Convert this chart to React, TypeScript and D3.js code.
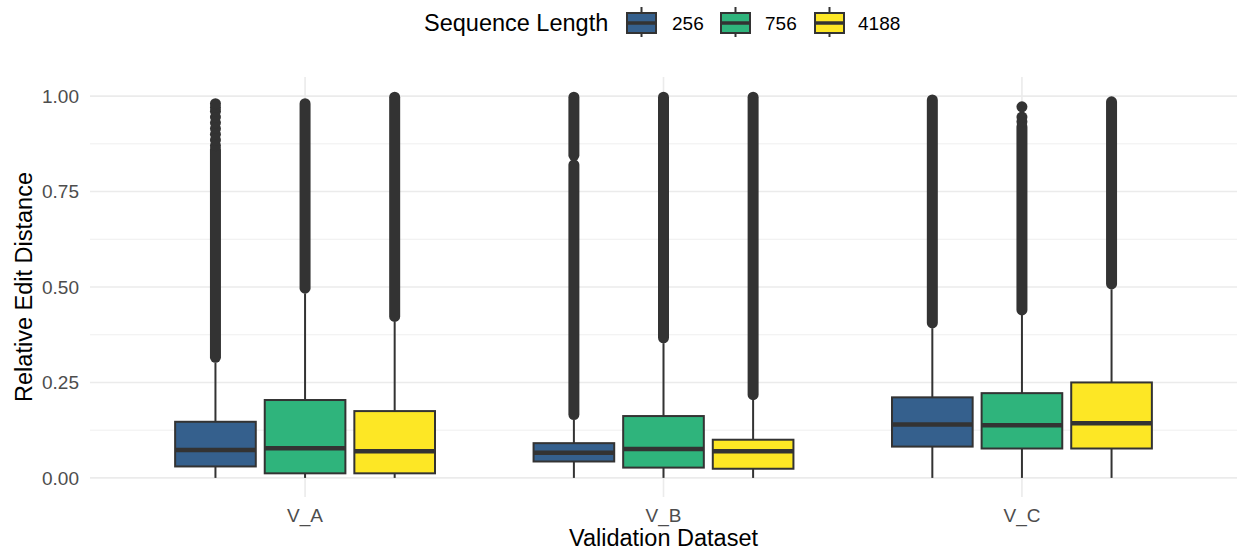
import React from "react";
import * as d3 from "d3";

// Validation datasets (x categories) and sequence lengths (fill groups)
const datasets = ["V_A", "V_B", "V_C"];
const seqLengths = ["256", "756", "4188"];
const fillColors = ["#35608D", "#2FB47C", "#FDE725"];
const yTicks = [0, 0.25, 0.5, 0.75, 1];
const yMinorTicks = [0.125, 0.375, 0.625, 0.875];

// Box statistics, indexed [dataset][sequence length]
const lowerWhisker = [
  [0, 0, 0],
  [0, 0, 0],
  [0, 0, 0],
];
const q1 = [
  [0.03, 0.012, 0.012],
  [0.043, 0.027, 0.024],
  [0.082, 0.077, 0.077],
];
const median = [
  [0.073, 0.078, 0.07],
  [0.066, 0.076, 0.07],
  [0.14, 0.138, 0.143],
];
const q3 = [
  [0.147, 0.204, 0.175],
  [0.091, 0.162, 0.1],
  [0.211, 0.222, 0.25],
];
const upperWhisker = [
  [0.302, 0.483, 0.409],
  [0.152, 0.353, 0.204],
  [0.392, 0.427, 0.494],
];

// Densely packed outliers appear as continuous runs [from, to]
const outlierRuns: [number, number][][][] = [
  [[[0.316, 0.86]], [[0.497, 0.98]], [[0.423, 0.997]]],
  [[[0.166, 0.82], [0.845, 0.997]], [[0.367, 0.997]], [[0.218, 0.997]]],
  [[[0.406, 0.99]], [[0.44, 0.92]], [[0.508, 0.985]]],
];
// Sparser outliers drawn as single points
const outlierPoints: number[][][] = [
  [[0.87, 0.885, 0.9, 0.915, 0.93, 0.945, 0.96, 0.97, 0.98], [], []],
  [[], [], []],
  [[], [0.933, 0.945, 0.972], []],
];

const W = 1238;
const H = 550;
const panel = { left: 90, right: 1237, top: 77, bottom: 497 };
const INK = "#333333";
const FONT = "'Liberation Sans', Arial, Helvetica, sans-serif";
const TITLE_SIZE = 23.5;
const LABEL_SIZE = 19;

export default function App() {
  const x = d3
    .scalePoint<string>()
    .domain(datasets)
    .range([panel.left, panel.right])
    .padding(0.6);
  const y = d3
    .scaleLinear()
    .domain([-0.05, 1.05])
    .range([panel.bottom, panel.top]);

  const slot = (x.step() * 0.75) / seqLengths.length;
  const boxW = slot * 0.9;
  const pointR = 5.5;

  const legendItems = [
    { x: 627, label: seqLengths[0], lx: 672 },
    { x: 721, label: seqLengths[1], lx: 765 },
    { x: 815, label: seqLengths[2], lx: 858 },
  ];

  return (
    <svg
      width={W}
      height={H}
      style={{ position: "absolute", left: 0, top: 0, background: "#fff" }}
      fontFamily={FONT}
    >
      {/* grid */}
      {yMinorTicks.map((t) => (
        <line
          key={"mn" + t}
          x1={panel.left}
          x2={panel.right}
          y1={y(t)}
          y2={y(t)}
          stroke="#EBEBEB"
          strokeWidth={0.8}
        />
      ))}
      {yTicks.map((t) => (
        <line
          key={"mj" + t}
          x1={panel.left}
          x2={panel.right}
          y1={y(t)}
          y2={y(t)}
          stroke="#EBEBEB"
          strokeWidth={1.6}
        />
      ))}
      {datasets.map((d) => (
        <line
          key={"vx" + d}
          x1={x(d)}
          x2={x(d)}
          y1={panel.top}
          y2={panel.bottom}
          stroke="#EBEBEB"
          strokeWidth={1.6}
        />
      ))}

      {/* boxplots */}
      {datasets.map((d, i) =>
        seqLengths.map((s, j) => {
          const cx = (x(d) as number) + (j - 1) * slot;
          return (
            <g key={d + s}>
              <line
                x1={cx}
                x2={cx}
                y1={y(upperWhisker[i][j])}
                y2={y(q3[i][j])}
                stroke={INK}
                strokeWidth={2}
              />
              <line
                x1={cx}
                x2={cx}
                y1={y(q1[i][j])}
                y2={y(lowerWhisker[i][j])}
                stroke={INK}
                strokeWidth={2}
              />
              {outlierRuns[i][j].map(([a, b], k) => (
                <line
                  key={"r" + k}
                  x1={cx}
                  x2={cx}
                  y1={y(a)}
                  y2={y(b)}
                  stroke={INK}
                  strokeWidth={pointR * 2}
                  strokeLinecap="round"
                />
              ))}
              {outlierPoints[i][j].map((v, k) => (
                <circle key={"p" + k} cx={cx} cy={y(v)} r={pointR} fill={INK} />
              ))}
              <rect
                x={cx - boxW / 2}
                y={y(q3[i][j])}
                width={boxW}
                height={y(q1[i][j]) - y(q3[i][j])}
                fill={fillColors[j]}
                stroke={INK}
                strokeWidth={2}
              />
              <line
                x1={cx - boxW / 2}
                x2={cx + boxW / 2}
                y1={y(median[i][j])}
                y2={y(median[i][j])}
                stroke={INK}
                strokeWidth={4.5}
              />
            </g>
          );
        })
      )}

      {/* y axis labels */}
      {yTicks.map((t) => (
        <text
          key={"yl" + t}
          x={79}
          y={y(t)}
          dy="0.35em"
          textAnchor="end"
          fontSize={LABEL_SIZE}
          fill="#4D4D4D"
        >
          {t.toFixed(2)}
        </text>
      ))}
      {/* x axis labels */}
      {datasets.map((d) => (
        <text
          key={"xl" + d}
          x={x(d)}
          y={522}
          textAnchor="middle"
          fontSize={LABEL_SIZE}
          fill="#4D4D4D"
        >
          {d}
        </text>
      ))}

      {/* axis titles */}
      <text
        x={(panel.left + panel.right) / 2}
        y={546}
        textAnchor="middle"
        fontSize={TITLE_SIZE}
        fill="#000"
      >
        Validation Dataset
      </text>
      <text
        transform={`translate(32, ${y(0.5)}) rotate(-90)`}
        textAnchor="middle"
        fontSize={TITLE_SIZE}
        fill="#000"
      >
        Relative Edit Distance
      </text>

      {/* legend */}
      <text x={424} y={31} fontSize={TITLE_SIZE} fill="#000">
        Sequence Length
      </text>
      {legendItems.map((it, j) => (
        <g key={"lg" + j}>
          <line
            x1={it.x + 14.5}
            x2={it.x + 14.5}
            y1={7}
            y2={37}
            stroke={INK}
            strokeWidth={2}
          />
          <rect
            x={it.x}
            y={13}
            width={29}
            height={20}
            fill={fillColors[j]}
            stroke={INK}
            strokeWidth={2}
          />
          <line
            x1={it.x}
            x2={it.x + 29}
            y1={23}
            y2={23}
            stroke={INK}
            strokeWidth={3.5}
          />
          <text x={it.lx} y={29.5} fontSize={LABEL_SIZE} fill="#000">
            {it.label}
          </text>
        </g>
      ))}
    </svg>
  );
}
